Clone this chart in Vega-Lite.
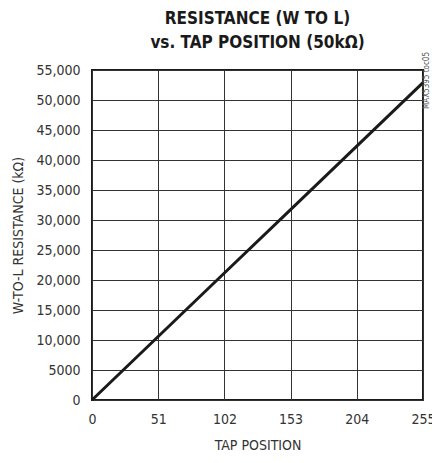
{
  "$schema": "https://vega.github.io/schema/vega-lite/v6.json",
  "autosize": {"type": "none"},
  "width": 331,
  "height": 330,
  "padding": {"left": 92, "top": 70, "right": 9, "bottom": 63},
  "background": "white",
  "config": {
    "view": {"stroke": "#1a1a1a", "strokeWidth": 2},
    "font": "DejaVu Sans Condensed",
    "axis": {
      "labelFont": "DejaVu Sans Condensed",
      "titleFont": "DejaVu Sans Condensed",
      "labelFontSize": 14,
      "titleFontSize": 14,
      "labelColor": "#333333",
      "titleColor": "#333333",
      "titleFontWeight": "normal",
      "gridColor": "#333333",
      "gridWidth": 1,
      "gridOpacity": 1,
      "domain": false,
      "ticks": false,
      "labelOverlap": false
    }
  },
  "title": {
    "text": ["RESISTANCE (W TO L)", "vs. TAP POSITION (50kΩ)"],
    "font": "DejaVu Sans Condensed",
    "fontSize": 17,
    "fontWeight": "bold",
    "color": "#1a1a1a",
    "anchor": "middle",
    "offset": 0,
    "lineHeight": 24
  },
  "data": {
    "values": [
      {"tap": 0, "resistance": 0},
      {"tap": 51, "resistance": 10580},
      {"tap": 102, "resistance": 21160},
      {"tap": 153, "resistance": 31740},
      {"tap": 204, "resistance": 42320},
      {"tap": 255, "resistance": 52900}
    ]
  },
  "layer": [
    {
      "mark": {"type": "line", "color": "#1a1a1a", "strokeWidth": 3},
      "encoding": {
        "x": {
          "field": "tap",
          "type": "quantitative",
          "scale": {"domain": [0, 255], "nice": false},
          "axis": {"values": [0, 51, 102, 153, 204, 255], "tickCount": 20, "title": "TAP POSITION", "labelPadding": 12, "titlePadding": 12, "labelFlush": false}
        },
        "y": {
          "field": "resistance",
          "type": "quantitative",
          "scale": {"domain": [0, 55000], "nice": false},
          "axis": {
            "values": [0, 5000, 10000, 15000, 20000, 25000, 30000, 35000, 40000, 45000, 50000, 55000],
            "tickCount": 30,
            "title": "W-TO-L RESISTANCE (kΩ)",
            "labelExpr": "datum.value < 10000 ? format(datum.value, 'd') : format(datum.value, ',')",
            "labelPadding": 12,
            "titlePadding": 10,
            "labelFlush": false
          }
        }
      }
    },
    {
      "data": {"values": [{"note": "MAX5395 toc05"}]},
      "mark": {"type": "text", "angle": 270, "fontSize": 8, "color": "#555555", "align": "right", "baseline": "middle", "font": "DejaVu Sans Condensed"},
      "encoding": {
        "text": {"field": "note"},
        "x": {"datum": 258, "type": "quantitative"},
        "y": {"datum": 58000, "type": "quantitative"}
      }
    }
  ]
}
